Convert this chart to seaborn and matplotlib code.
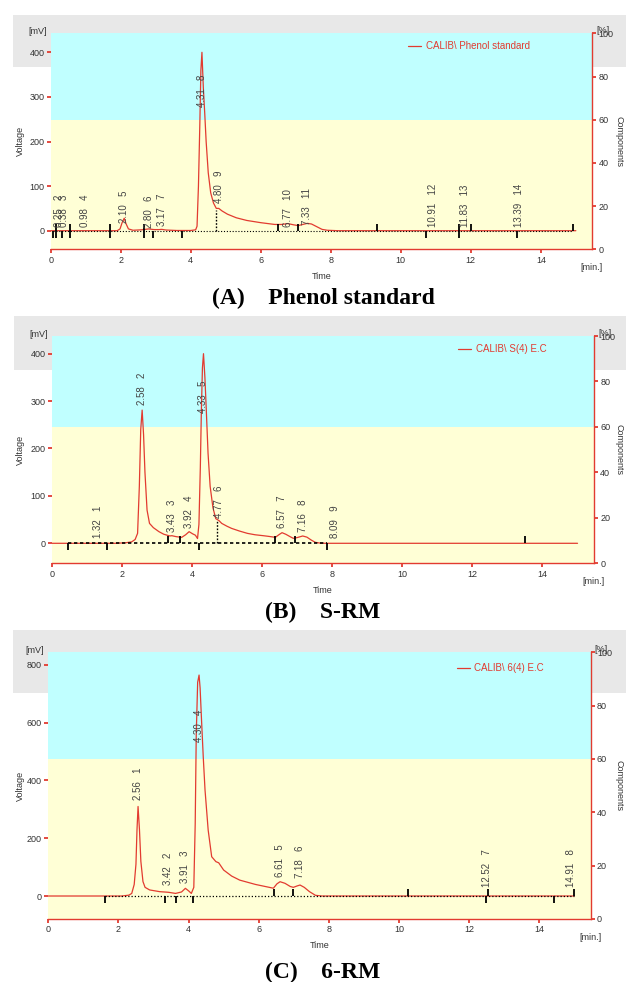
import matplotlib
matplotlib.use("Agg")
import matplotlib.pyplot as plt
from matplotlib.patches import Rectangle
import numpy as np
import pandas as pd
import seaborn as sns

# ---------------- data ----------------
# Panel A : Phenol standard
time_a = [0.0, 1.90, 1.98, 2.04, 2.10, 2.15, 2.22, 2.35, 2.60, 2.80, 2.95, 3.10, 3.17, 3.30, 3.60,
          4.00, 4.14, 4.18, 4.22, 4.26, 4.29, 4.32, 4.36, 4.40, 4.44, 4.50, 4.57, 4.65, 4.73, 4.80,
          4.90, 5.05, 5.30, 5.60, 6.00, 6.40, 6.60, 6.77, 6.95, 7.07, 7.20, 7.33, 7.45, 7.60, 7.75,
          7.90, 8.20, 15.0]
volt_a = [0, 0, 4, 18, 28, 16, 4, 1, 2, 4, 2.5, 2.5, 3, 1.5, 0.5,
          0.5, 2, 10, 100, 240, 360, 400, 320, 263, 200, 130, 85, 62, 50, 50,
          44, 37, 29, 23, 18, 14, 14, 16, 13, 11.5, 14, 16.5, 15, 9, 3,
          1, 0, 0]
rt_a = [0.25, 0.38, 0.98, 2.10, 2.80, 3.17, 4.31, 4.80, 6.77, 7.33, 10.91, 11.83, 13.39]
num_a = [2, 3, 4, 5, 6, 7, 8, 9, 10, 11, 12, 13, 14]
label_mv_a = [9, 9, 9, 17, 6, 11, 277, 61, 9, 12, 9, 9, 9]
mark_t_a = [0.07, 0.15, 0.32, 0.55, 1.69, 2.66, 2.91, 3.74, 6.50, 7.07, 9.33, 10.73, 11.66, 12.00, 13.32, 14.93]
mark_k_a = ["d", "b", "d", "b", "b", "b", "d", "d", "u", "u", "u", "d", "b", "u", "d", "u"]
base_a = [0.07, 14.93]
drop_a = [4.72, 46]

# Panel B : S-RM
time_b = [0.0, 1.80, 2.10, 2.28, 2.38, 2.45, 2.50, 2.54, 2.58, 2.62, 2.66, 2.72, 2.79, 2.90, 3.06,
          3.20, 3.37, 3.43, 3.55, 3.71, 3.82, 3.92, 4.02, 4.10, 4.16, 4.20, 4.24, 4.27, 4.30, 4.33,
          4.37, 4.41, 4.46, 4.52, 4.60, 4.68, 4.77, 4.85, 5.00, 5.13, 5.35, 5.58, 5.80, 6.04, 6.20,
          6.38, 6.48, 6.57, 6.68, 6.80, 6.89, 7.00, 7.16, 7.28, 7.40, 7.52, 7.65, 7.80, 15.0]
volt_b = [0, 0, 1, 3, 8, 21, 120, 240, 281, 230, 150, 70, 42, 33, 24.5,
          19, 15.5, 16, 14, 12.6, 18, 24.5, 20, 17, 10, 40, 160, 281, 370, 400,
          350, 281, 190, 120, 75, 52, 48, 42, 36, 31.5, 26, 21, 18, 16, 14.5,
          12.6, 18, 22.4, 19, 14, 10.5, 12, 15.4, 13, 7, 2, 0.5, 0, 0]
rt_b = [1.32, 2.58, 3.43, 3.92, 4.33, 4.77, 6.57, 7.16, 8.09]
num_b = [1, 2, 3, 4, 5, 6, 7, 8, 9]
label_mv_b = [11, 292, 24, 32, 274, 53, 32, 24, 11]
mark_t_b = [0.46, 1.58, 3.33, 3.67, 4.20, 6.36, 6.93, 7.86, 13.51]
mark_k_b = ["d", "d", "u", "u", "d", "u", "u", "d", "u"]
base_b = [0.46, 7.86]
drop_b = [4.71, 46]

# Panel C : 6-RM
time_c = [0.0, 2.10, 2.30, 2.38, 2.45, 2.50, 2.53, 2.56, 2.60, 2.64, 2.70, 2.76, 2.89, 3.18, 3.42,
          3.63, 3.80, 3.91, 4.00, 4.08, 4.15, 4.19, 4.22, 4.26, 4.30, 4.33, 4.37, 4.42, 4.47, 4.56,
          4.66, 4.78, 4.86, 5.00, 5.23, 5.46, 5.91, 6.42, 6.52, 6.61, 6.75, 6.90, 6.99, 7.10, 7.18,
          7.30, 7.45, 7.62, 7.80, 15.0]
volt_c = [0, 0, 3, 9, 40, 110, 230, 310, 230, 120, 50, 30, 21, 15, 13,
          9, 14, 26.6, 18, 9, 30, 250, 560, 740, 765, 720, 610, 480, 367, 228,
          136, 119, 115, 90, 69, 55, 40, 27, 42, 49.5, 44, 33, 30, 35, 38,
          30, 15, 2.4, 0, 0]
rt_c = [2.56, 3.42, 3.91, 4.30, 6.61, 7.18, 12.52, 14.91]
num_c = [1, 2, 3, 4, 5, 6, 7, 8]
label_mv_c = [332, 38, 44, 534, 67, 61, 32, 32]
mark_t_c = [1.62, 3.32, 3.65, 4.14, 6.43, 6.99, 10.26, 12.49, 12.53, 14.43, 14.98]
mark_k_c = ["d", "d", "d", "d", "u", "u", "u", "d", "u", "d", "u"]
base_c = [1.62, 14.98]
drop_c = None

legend_a = "CALIB\\ Phenol standard"
legend_b = "CALIB\\ S(4) E.C"
legend_c = "CALIB\\ 6(4) E.C"
title_a = "(A)    Phenol standard"
title_b = "(B)    S-RM"
title_c = "(C)    6-RM"
xticks = [0, 2, 4, 6, 8, 10, 12, 14]
yticks_ab = [0, 100, 200, 300, 400]
yticks_c = [0, 200, 400, 600, 800]
pct_ticks = [0, 20, 40, 60, 80, 100]

# ---------------- style / layout ----------------
sns.set_style("white")
plt.rcParams['font.family'] = ['Liberation Sans', 'DejaVu Sans']

W, H = 626, 982
fig = plt.figure(figsize=(W / 100, H / 100), dpi=100)

RED = "#e23b30"
DARK = "#333333"
CYAN = "#c0ffff"
YELLOW = "#ffffd6"
GRAY = "#e8e8e8"


def fx(x):
    return x / W


def fy(y):
    return 1 - y / H


panels = [
    dict(t=time_a, v=volt_a, rt=rt_a, num=num_a, lab=label_mv_a, mt=mark_t_a, mk=mark_k_a,
         base=base_a, drop=drop_a, legend=legend_a, title=title_a, yticks=yticks_ab,
         rect=(50.7, 33.3, 592.3, 249.3), band=(12.7, 15, 626, 66.7), ylim=(-41.7, 442.6),
         leg=(408, 46.3), title_y=298.8, base_lw=0.8, base_ls=(0, (1, 1.6))),
    dict(t=time_b, v=volt_b, rt=rt_b, num=num_b, lab=label_mv_b, mt=mark_t_b, mk=mark_k_b,
         base=base_b, drop=drop_b, legend=legend_b, title=title_b, yticks=yticks_ab,
         rect=(51.7, 336.0, 594.0, 563.3), band=(14, 316, 626, 370), ylim=(-42.2, 437.3),
         leg=(458, 349.3), title_y=612.0, base_lw=1.2, base_ls=(0, (2, 1.6))),
    dict(t=time_c, v=volt_c, rt=rt_c, num=num_c, lab=label_mv_c, mt=mark_t_c, mk=mark_k_c,
         base=base_c, drop=drop_c, legend=legend_c, title=title_c, yticks=yticks_c,
         rect=(48.3, 652.3, 590.7, 919.0), band=(12.7, 630, 626, 692.7), ylim=(-79.6, 843.8),
         leg=(457, 668.3), title_y=972.0, base_lw=0.9, base_ls=(0, (1, 1.6))),
]

for p in panels:
    l, t, r, b = p["rect"]
    # gray header band (behind axes)
    bl, bt, br, bb = p["band"]
    fig.add_artist(Rectangle((fx(bl), fy(bb)), fx(br - bl), (bb - bt) / H,
                             transform=fig.transFigure, facecolor=GRAY, edgecolor='none', zorder=-5))
    ax = fig.add_axes([fx(l), fy(b), fx(r - l), (b - t) / H])
    ax.set_facecolor(YELLOW)
    ax.add_patch(Rectangle((0, 0.6), 1, 0.4, transform=ax.transAxes, facecolor=CYAN,
                           edgecolor='none', zorder=0))

    df = pd.DataFrame({"Time": p["t"], "Voltage": p["v"]})
    sns.lineplot(data=df, x="Time", y="Voltage", ax=ax, color=RED, lw=0.9,
                 estimator=None, sort=False, label=p["legend"], zorder=3)

    # integration baseline and markers
    ax.plot(p["base"], [0, 0], color="black", lw=p["base_lw"], ls=p["base_ls"], zorder=4)
    if p["drop"] is not None:
        ax.plot([p["drop"][0]] * 2, [0, p["drop"][1]], color="black", lw=1.0,
                ls=(0, (1.2, 1.2)), zorder=4)
    kinds = {"u": 2, "d": 3, "b": "|"}
    sizes = {"u": 5, "d": 5, "b": 10}
    for k in ("u", "d", "b"):
        ts = [tt for tt, kk in zip(p["mt"], p["mk"]) if kk == k]
        if ts:
            ax.plot(ts, [0] * len(ts), ls="none", marker=kinds[k], ms=sizes[k],
                    mew=1.3, color="black", zorder=5)

    # peak labels
    for rtv, n, lm in zip(p["rt"], p["num"], p["lab"]):
        ax.text(rtv, lm, f"{rtv:.2f}   {n}", rotation=90, ha="center", va="bottom",
                fontsize=7, color="#444444", zorder=6)

    ax.set_xlim(0, 15.47)
    ax.set_ylim(*p["ylim"])
    ax.set_xticks(xticks)
    ax.set_yticks(p["yticks"])
    ax.set_xlabel("")
    ax.set_ylabel("")
    for s in ("top", "left", "right"):
        ax.spines[s].set_visible(False)
    ax.spines["bottom"].set_color(RED)
    ax.spines["bottom"].set_linewidth(1.0)
    ax.tick_params(axis="both", direction="out", length=3, width=1.3, color=RED,
                   labelcolor=DARK, labelsize=6.5, pad=1.5, left=True, bottom=True)

    ax2 = ax.twinx()
    ax2.set_ylim(0, 100)
    ax2.set_yticks(pct_ticks)
    for s in ("top", "left", "bottom"):
        ax2.spines[s].set_visible(False)
    ax2.spines["right"].set_color(RED)
    ax2.spines["right"].set_linewidth(1.0)
    ax2.tick_params(axis="y", direction="out", length=3, width=1.3, color=RED,
                    labelcolor=DARK, labelsize=6.5, pad=1.5)

    # legend
    ax.legend(loc="center left", bbox_to_anchor=(fx(p["leg"][0]), fy(p["leg"][1])),
              bbox_transform=fig.transFigure, frameon=False, fontsize=7,
              handlelength=1.3, handletextpad=0.5, borderpad=0, borderaxespad=0,
              labelcolor=RED)

    # axis texts
    cx = (l + r) / 2
    fig.text(fx(l - 4), fy(t - 1.5), "[mV]", ha="right", va="center", fontsize=6.5, color=DARK)
    fig.text(fx(r + 4), fy(t - 3), "[%]", ha="left", va="center", fontsize=6.5, color=DARK)
    fig.text(fx(20), fy((t + b) / 2), "Voltage", rotation=90, ha="center", va="center",
             fontsize=6.5, color=DARK)
    fig.text(fx(619), fy((t + b) / 2), "Components", rotation=270, ha="center", va="center",
             fontsize=6.5, color=DARK)
    fig.text(fx(r - 0.5), fy(b + 18), "[min.]", ha="center", va="center", fontsize=6.5, color=DARK)
    fig.text(fx(cx), fy(b + 27), "Time", ha="center", va="center", fontsize=6.5, color=DARK)
    fig.text(fx(323), fy(p["title_y"]), p["title"], ha="center", va="center", fontsize=17,
             fontweight="bold", family=["Liberation Serif", "DejaVu Serif"], color="black")

fig.savefig("out.png", dpi=100)
